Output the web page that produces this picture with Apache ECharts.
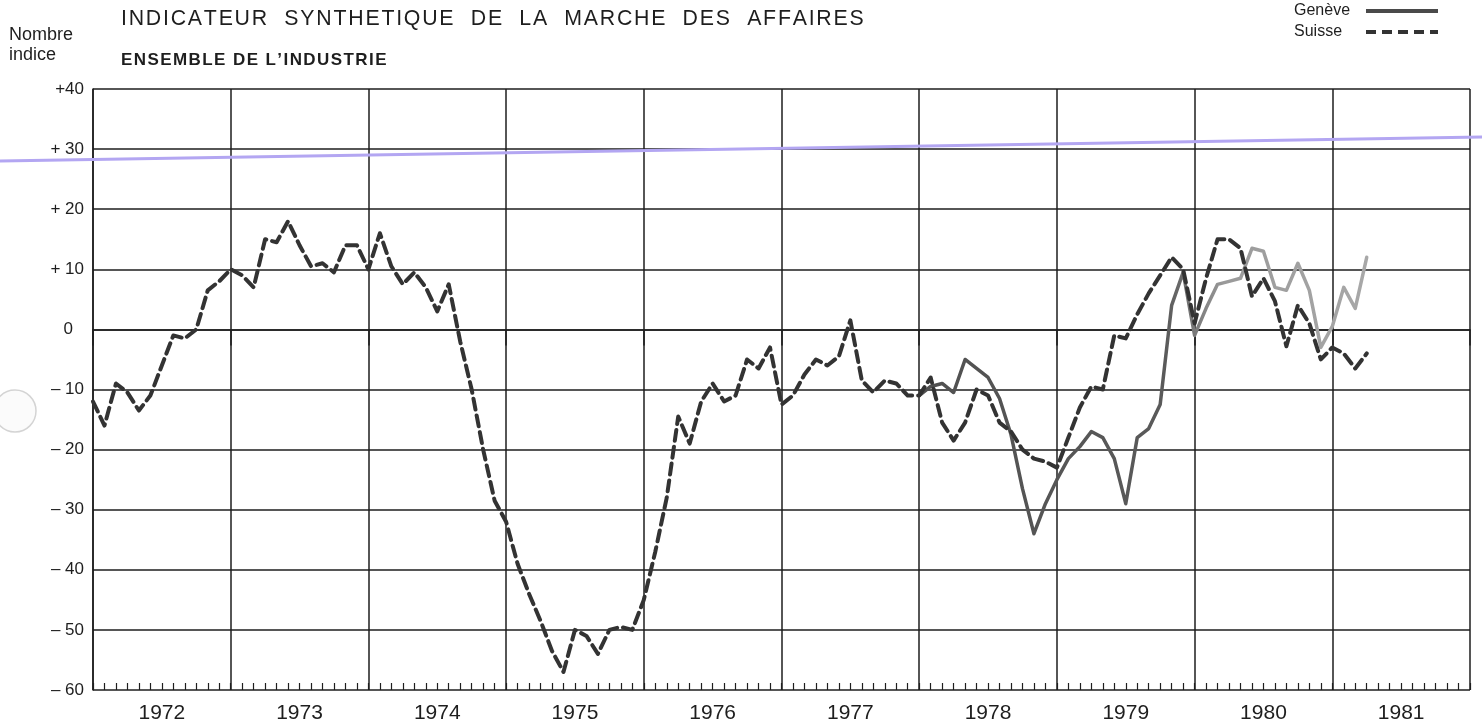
<!DOCTYPE html>
<html>
<head>
<meta charset="utf-8">
<script src="https://cdn.jsdelivr.net/npm/echarts@6.0.0/dist/echarts.min.js"></script>
<style>
  html, body { margin: 0; padding: 0; background: #ffffff; }
  #chart { width: 1482px; height: 726px; }
</style>
</head>
<body>
<div id="chart"></div>
<script>
// années (une colonne par année), échelle verticale
const annees = ['1972', '1973', '1974', '1975', '1976', '1977', '1978', '1979', '1980', '1981'];
const yTicks = [-60, -50, -40, -30, -20, -10, 0, 10, 20, 30, 40];
const yTickLabels = ['– 60', '– 50', '– 40', '– 30', '– 20', '– 10', '0', '+ 10', '+ 20', '+ 30', '+40'];

// valeurs mensuelles, index = mois depuis janvier 1972
const suisseDebut = 0;
const suisse = [
  -12, -16, -9, -10.5, -13.5, -11, -6, -1, -1.5, 0, 6.5, 8,          // 1972
  10, 9, 7, 15, 14.5, 18, 14, 10.5, 11, 9.5, 14, 14,                 // 1973
  10, 16, 10.5, 7.5, 9.5, 7, 3, 7.5, -2, -10, -20, -28.5,            // 1974
  -32, -39, -44, -48.5, -53.5, -57, -50, -51, -54, -50, -49.5, -50,  // 1975
  -45, -37, -28, -14.5, -19, -12, -9, -12, -11, -5, -6.5, -3,        // 1976
  -12.5, -11, -7.5, -5, -6, -4.5, 1.5, -8.5, -10.5, -8.5, -9, -11,   // 1977
  -11, -8, -15.5, -18.5, -15.5, -10, -11, -15.5, -17, -20, -21.5, -22, // 1978
  -23, -18, -13, -9.5, -10, -1, -1.5, 2.5, 6, 9, 12, 10,             // 1979
  1, 8.5, 15, 15, 13.5, 5.5, 8.5, 4.7, -2.8, 4, 1, -5,               // 1980
  -3, -4, -6.5, -4                                                   // 1981
];

const geneveDebut = 72;
const geneve = [
  -11, -9.5, -9, -10.5, -5, -6.5, -8, -11.5, -17.5, -26.5, -34, -29, // 1978
  -25, -21.5, -19.5, -17, -18, -21.5, -29, -18, -16.5, -12.5, 4, 9.5, // 1979
  -1, 3.5, 7.5, 8, 8.5, 13.5, 13, 7, 6.5, 11, 6.5, -3,               // 1980
  0.5, 7, 3.5, 12                                                    // 1981
];

const police = "'Liberation Sans', Arial, Helvetica, sans-serif";
const encre = '#1e1e1e';
// lettres espacées comme sur l'original
const espace = s => s.split('').join('\u200A');

const chart = echarts.init(document.getElementById('chart'), null, { renderer: 'canvas' });

chart.setOption({
  backgroundColor: '#ffffff',
  animation: false,
  textStyle: { fontFamily: police, color: encre },
  title: [
    {
      text: espace('INDICATEUR  SYNTHETIQUE  DE  LA  MARCHE  DES  AFFAIRES'),
      left: 116, top: 4,
      textStyle: { fontFamily: police, fontSize: 21.3, fontWeight: 'normal', color: encre }
    },
    {
      text: espace('ENSEMBLE DE L’INDUSTRIE'),
      left: 116, top: 47,
      textStyle: { fontFamily: police, fontSize: 17, fontWeight: 'bold', color: encre }
    },
    {
      text: 'Nombre\nindice',
      left: 4, top: 20,
      textStyle: { fontFamily: police, fontSize: 18, fontWeight: 'normal', color: encre, lineHeight: 20 }
    }
  ],
  legend: {
    orient: 'vertical',
    right: 44, top: 3, padding: 0,
    align: 'right',
    itemWidth: 72, itemHeight: 4, itemGap: 5,
    formatter: nom => '{t|' + nom + '}',
    textStyle: {
      fontFamily: police, fontSize: 16, color: encre,
      rich: { t: { fontFamily: police, fontSize: 16, color: encre, width: 67, align: 'left', height: 16 } }
    },
    data: [
      { name: 'Genève', icon: 'rect', itemStyle: { color: '#4a4a4a' } },
      {
        name: 'Suisse',
        icon: 'path://M0,0h10v4h-10z M16,0h10v4h-10z M32,0h10v4h-10z M48,0h10v4h-10z M64,0h8v4h-8z',
        itemStyle: { color: '#333333' }
      }
    ]
  },
  grid: { left: 93, right: 12, top: 89, bottom: 36, containLabel: false, outerBoundsMode: 'none' },
  xAxis: [
    {
      type: 'value', min: 0, max: 120, interval: 12,
      axisLine: { show: true, lineStyle: { color: encre, width: 1.5 } },
      axisTick: { show: true, inside: false, length: 16, lineStyle: { color: encre, width: 1.5 } },
      axisLabel: { show: false },
      splitLine: { show: true, lineStyle: { color: encre, width: 1.5 } }
    },
    {
      type: 'category', data: annees, position: 'bottom', boundaryGap: true,
      axisLine: { show: false }, axisTick: { show: false },
      axisLabel: { interval: 0, margin: 13, fontFamily: "'Liberation Sans Narrow', " + police, fontSize: 21, color: encre },
      splitLine: { show: false }
    },
    {
      type: 'value', min: 0, max: 120, interval: 1, position: 'bottom',
      axisLine: { show: false },
      axisTick: { show: true, inside: true, length: 7, lineStyle: { color: encre, width: 1.2 } },
      axisLabel: { show: false },
      splitLine: { show: false }
    }
  ],
  yAxis: {
    type: 'value', min: -60, max: 40, interval: 10,
    axisLine: { show: true, lineStyle: { color: encre, width: 1.5 } },
    axisTick: { show: false },
    axisLabel: {
      margin: 9, fontFamily: police, fontSize: 17, color: encre,
      formatter: v => yTickLabels[yTicks.indexOf(v)] + (v === 0 ? '{z|}' : ''),
      rich: { z: { width: 11 } }
    },
    splitLine: { show: true, lineStyle: { color: encre, width: 1.5 } }
  },
  graphic: [
    // trait de surligneur violet et trou de perforation du document scanné
    { type: 'line', shape: { x1: 0, y1: 161, x2: 1482, y2: 137 }, style: { stroke: '#b3a6f2', lineWidth: 3 }, z: 100 },
    { type: 'circle', shape: { cx: 15, cy: 411, r: 21 }, style: { stroke: '#d4d4d4', fill: '#fbfbfb', lineWidth: 1.5 }, z: 100 }
  ],
  series: [
    {
      name: 'Suisse', type: 'line', xAxisIndex: 0,
      data: suisse.map((v, i) => [suisseDebut + i, v]),
      symbol: 'none', smooth: false, z: 3,
      lineStyle: { color: '#333333', width: 4, type: [11, 6], cap: 'round', join: 'round' }
    },
    {
      name: 'Genève', type: 'line', xAxisIndex: 0,
      data: geneve.map((v, i) => [geneveDebut + i, v]),
      symbol: 'none', smooth: false, z: 2,
      lineStyle: {
        width: 3.5, join: 'round', cap: 'round',
        color: {
          type: 'linear', x: 0, y: 0, x2: 1, y2: 0,
          colorStops: [
            { offset: 0, color: '#505050' },
            { offset: 0.55, color: '#5a5a5a' },
            { offset: 0.68, color: '#9a9a9a' },
            { offset: 1, color: '#a8a8a8' }
          ]
        }
      }
    }
  ]
});
</script>
</body>
</html>
